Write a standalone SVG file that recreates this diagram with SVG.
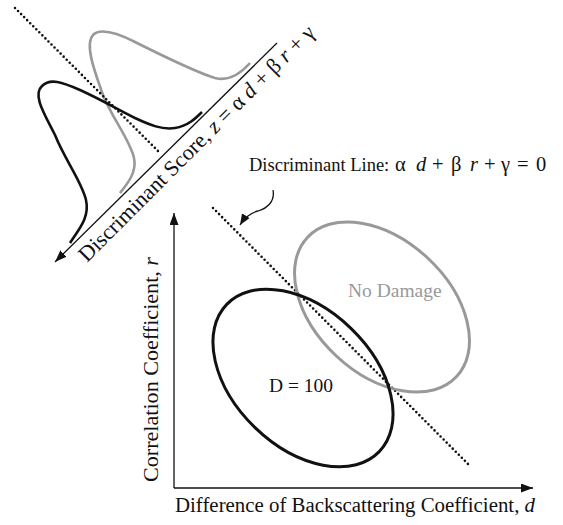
<svg xmlns="http://www.w3.org/2000/svg" width="563" height="525" viewBox="0 0 563 525">
<defs>
<style>
.t{font-family:"Liberation Serif","Times New Roman",serif;fill:#111}
.i{font-style:italic}
.m{font-size:20.5px}
.axis{stroke:#111;stroke-width:1.3;fill:none}
.dot{stroke:#111;stroke-width:2.6;stroke-dasharray:0 4.3;stroke-linecap:round;fill:none}
.blk{stroke:#111;stroke-width:2.6;fill:none}
.gry{stroke:#999;stroke-width:2.6;fill:none}
</style>
<marker id="arr" viewBox="0 0 12 9" markerWidth="12" markerHeight="9" refX="12" refY="4.5" orient="auto" markerUnits="userSpaceOnUse">
<path d="M0,0 L12,4.5 L0,9 z" fill="#111"/>
</marker>
<marker id="arrs" viewBox="0 0 11 9" markerWidth="11" markerHeight="9" refX="11" refY="4.5" orient="auto" markerUnits="userSpaceOnUse">
<path d="M0,0 L11,4.5 L0,9 z" fill="#111"/>
</marker>
</defs>
<rect width="563" height="525" fill="#fff"/>

<g id="score-axis">
<line class="axis" x1="277" y1="43" x2="55" y2="262" marker-end="url(#arr)"/>
<text class="t" font-size="22" transform="translate(87,263) rotate(-45)" textLength="324" lengthAdjust="spacingAndGlyphs">Discriminant Score, <tspan class="i">z</tspan> = α <tspan class="i">d</tspan> + β <tspan class="i">r</tspan> + γ</text>
</g>

<g id="dist-nodamage">
<path class="gry" d="M120,193 C128,183 137,172 134,158 C130,140 112,118 103,95 C96,75 84,45 93,35 C100,28 115,32 135,42 C165,57 195,72 215,78 C230,82 242,72 250,63"/>
</g>

<g id="dist-d100">
<path class="blk" d="M70,243 C78,230 90,218 86,200 C82,182 65,160 55,135 C45,115 32,95 42,86 C50,78 62,82 80,90 C100,99 115,108 135,118 C150,125 162,130 175,128 C188,126 196,118 202,112"/>
</g>

<g id="discriminant-line">
<line class="dot" x1="15" y1="8" x2="160" y2="153"/>
<line class="dot" x1="213" y1="208" x2="468" y2="464"/>
</g>

<g id="axes">
<line class="axis" x1="174" y1="488" x2="174" y2="213" marker-end="url(#arr)"/>
<line class="axis" x1="174" y1="488" x2="533" y2="488" marker-end="url(#arr)"/>
<text class="t" font-size="20" x="175" y="512" textLength="360" lengthAdjust="spacingAndGlyphs">Difference of Backscattering Coefficient, <tspan class="i">d</tspan></text>
<text class="t" font-size="20.5" transform="translate(158,482) rotate(-90)" textLength="225" lengthAdjust="spacingAndGlyphs">Correlation Coefficient, <tspan class="i">r</tspan></text>
</g>

<g id="ellipse-nodamage">
<ellipse cx="382" cy="307" rx="102" ry="67" transform="rotate(43 382 307)" fill="none" stroke="#999" stroke-width="3"/>
<text x="348" y="297" font-size="19.5" class="t" style="fill:#999">No Damage</text>
</g>

<g id="ellipse-d100">
<ellipse cx="303" cy="378" rx="106" ry="69" transform="rotate(44 303 378)" fill="none" stroke="#111" stroke-width="3"/>
<text x="269" y="392" font-size="19.5" class="t">D = 100</text>
</g>

<g id="label-discriminant-line">
<text class="t" font-size="18.5" y="171"><tspan x="249">Discriminant Line:</tspan><tspan x="395" class="m">α</tspan><tspan x="416" class="i m">d</tspan><tspan x="432" class="m">+</tspan><tspan x="451" class="m">β</tspan><tspan x="470" class="i m">r</tspan><tspan x="484" class="m">+</tspan><tspan x="501" class="m">γ</tspan><tspan x="517" class="m">=</tspan><tspan x="536" class="m">0</tspan></text>
</g>

<g id="connectors">
<path class="axis" d="M273,190 C275,201 268,208 258,211 C250,213 245,217 240,225" marker-end="url(#arrs)"/>
</g>
</svg>
